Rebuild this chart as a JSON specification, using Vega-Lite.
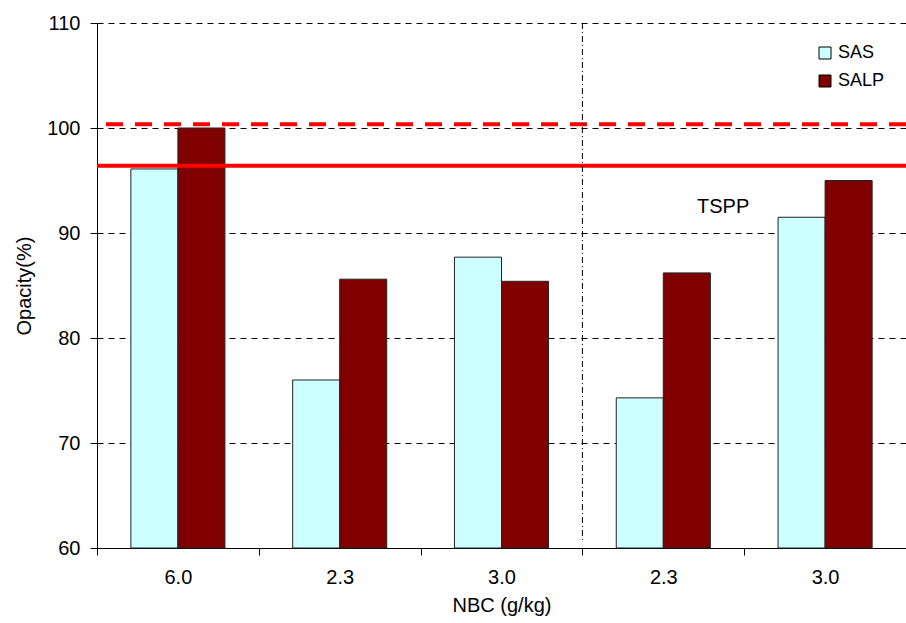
{
  "$schema": "https://vega.github.io/schema/vega-lite/v6.json",
  "width": 809,
  "height": 525,
  "autosize": {"type": "none"},
  "padding": {"left": 97, "top": 23, "right": 0, "bottom": 75},
  "background": "white",
  "config": {"font": "Liberation Sans", "view": {"stroke": null}},
  "layer": [
    {
      "data": {"values": [
        {"g": "g1", "series": "SAS", "v": 96.1},
        {"g": "g1", "series": "SALP", "v": 100.0},
        {"g": "g2", "series": "SAS", "v": 76.0},
        {"g": "g2", "series": "SALP", "v": 85.6},
        {"g": "g3", "series": "SAS", "v": 87.7},
        {"g": "g3", "series": "SALP", "v": 85.4},
        {"g": "g4", "series": "SAS", "v": 74.3},
        {"g": "g4", "series": "SALP", "v": 86.2},
        {"g": "g5", "series": "SAS", "v": 91.5},
        {"g": "g5", "series": "SALP", "v": 95.0}
      ]},
      "mark": {"type": "bar", "stroke": "#222", "strokeWidth": 1},
      "encoding": {
        "x": {
          "field": "g", "type": "nominal", "title": "NBC (g/kg)",
          "scale": {"domain": ["g1", "g2", "g3", "g4", "g5"], "paddingInner": 0, "paddingOuter": 0},
          "axis": {
            "labelExpr": "['6.0','2.3','3.0','2.3','3.0'][indexof(['g1','g2','g3','g4','g5'], datum.value)]",
            "labelAngle": 0, "tickBand": "extent", "grid": false,
            "domainColor": "#000", "tickColor": "#000", "tickSize": 7,
            "labelFontSize": 20, "labelPadding": 12, "labelColor": "#000",
            "titleFontSize": 20, "titleFontWeight": "normal", "titlePadding": 8, "titleColor": "#000"
          }
        },
        "xOffset": {"field": "series", "type": "nominal", "scale": {"domain": ["SAS", "SALP"], "paddingInner": 0, "paddingOuter": 0.72}},
        "y": {
          "field": "v", "type": "quantitative", "title": "Opacity(%)",
          "scale": {"domain": [60, 110], "zero": false, "nice": false},
          "axis": {
            "values": [60, 70, 80, 90, 100, 110], "grid": true, "gridDash": [6, 5], "gridColor": "#000", "gridWidth": 1,
            "tickSize": 7, "tickColor": "#000", "domainColor": "#000",
            "labelFontSize": 20, "labelPadding": 10, "labelColor": "#000",
            "titleFontSize": 20, "titleFontWeight": "normal", "titlePadding": 12, "titleColor": "#000"
          }
        },
        "y2": {"datum": 60},
        "color": {
          "field": "series", "type": "nominal",
          "scale": {"domain": ["SAS", "SALP"], "range": ["#CCFFFF", "#800000"]},
          "legend": {
            "orient": "none", "legendX": 719, "legendY": 21, "title": null,
            "symbolType": "square", "symbolSize": 144, "symbolStrokeColor": "#000", "symbolStrokeWidth": 1,
            "labelFontSize": 18, "labelOffset": 4, "rowPadding": 10, "padding": 0, "labelColor": "#000"
          }
        }
      }
    },
    {
      "data": {"values": [{"y": 100.35}]},
      "mark": {"type": "rule", "color": "#FF0000", "strokeWidth": 4, "strokeDash": [17, 12]},
      "encoding": {"y": {"field": "y", "type": "quantitative", "title": "Opacity(%)"}}
    },
    {
      "data": {"values": [{"y": 96.4}]},
      "mark": {"type": "rule", "color": "#FF0000", "strokeWidth": 4},
      "encoding": {"y": {"field": "y", "type": "quantitative", "title": "Opacity(%)"}}
    },
    {
      "data": {"values": [{"g": "g4", "top": 110, "bottom": 60.7}]},
      "mark": {"type": "rule", "color": "#000", "strokeWidth": 1, "strokeDash": [6, 3, 1, 3]},
      "encoding": {
        "x": {"field": "g", "type": "nominal", "bandPosition": 0, "title": "NBC (g/kg)"},
        "y": {"field": "top", "type": "quantitative", "title": "Opacity(%)"},
        "y2": {"field": "bottom"}
      }
    },
    {
      "data": {"values": [{"g": "g4", "y": 92.5, "label": "TSPP"}]},
      "mark": {"type": "text", "fontSize": 20, "align": "center", "baseline": "middle", "color": "#000"},
      "encoding": {
        "x": {"field": "g", "type": "nominal", "bandPosition": 0.87, "title": "NBC (g/kg)"},
        "y": {"field": "y", "type": "quantitative", "title": "Opacity(%)"},
        "text": {"field": "label"}
      }
    }
  ]
}
